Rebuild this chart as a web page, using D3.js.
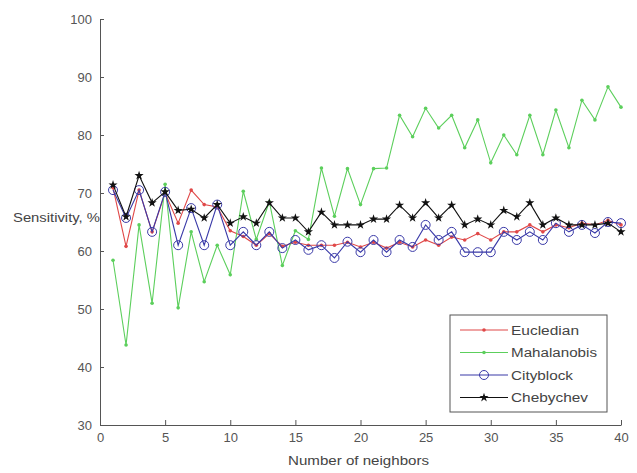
<!DOCTYPE html>
<html>
<head>
<meta charset="utf-8">
<script src="https://cdn.jsdelivr.net/npm/d3@7"></script>
<style>
  html, body { margin: 0; padding: 0; background: #fff; }
  svg { display: block; font-family: Arial, "Liberation Sans", sans-serif; }
</style>
</head>
<body>
<svg id="chart" width="637" height="473"></svg>
<script>
// Number of neighbors k = 1..40
const neighbors = d3.range(1, 41);

// Sensitivity (%) for each distance metric
const eucledian = [70.9, 60.8, 70.5, 63.3, 70.0, 64.8, 70.5, 68.0, 67.6, 63.5,
                   62.5, 61.0, 63.0, 60.8, 61.5, 61.0, 61.0, 61.0, 61.5, 60.7,
                   61.5, 60.5, 61.5, 60.7, 61.9, 61.0, 62.4, 61.9, 63.0, 61.9,
                   63.3, 63.3, 64.5, 63.3, 64.5, 64.0, 64.8, 64.5, 65.3, 64.5];
const mahalanobis = [58.4, 43.8, 64.5, 51.0, 71.5, 50.2, 63.3, 54.7, 61.0, 55.9,
                     70.3, 62.0, 68.5, 57.5, 63.5, 62.0, 74.3, 66.0, 74.2, 68.0,
                     74.2, 74.3, 83.4, 79.7, 84.6, 81.2, 83.4, 77.8, 82.6, 75.2,
                     80.0, 76.6, 83.4, 76.6, 84.3, 77.8, 86.0, 82.6, 88.3, 84.8];
const cityblock = [70.5, 65.7, 70.5, 63.3, 70.2, 61.0, 67.4, 61.0, 68.0, 61.0,
                   63.3, 61.0, 63.3, 60.5, 61.9, 60.2, 61.0, 58.8, 61.6, 59.8,
                   61.9, 59.8, 61.9, 60.7, 64.5, 61.9, 63.3, 59.8, 59.8, 59.8,
                   63.3, 61.9, 63.3, 61.9, 64.8, 63.3, 64.5, 63.1, 65.0, 64.8];
const chebychev = [71.4, 65.9, 73.0, 68.3, 70.2, 67.0, 67.2, 65.7, 68.0, 64.8,
                   65.9, 64.8, 68.3, 65.7, 65.7, 63.3, 66.7, 64.5, 64.5, 64.5,
                   65.5, 65.5, 67.9, 65.7, 68.3, 65.7, 67.9, 64.5, 65.5, 64.5,
                   67.0, 65.9, 68.3, 64.5, 65.7, 64.5, 64.5, 64.5, 64.8, 63.3];

const seriesNames = ["Eucledian", "Mahalanobis", "Cityblock", "Chebychev"];
const xTicks = [0, 5, 10, 15, 20, 25, 30, 35, 40];
const yTicks = [30, 40, 50, 60, 70, 80, 90, 100];

const series = [
  { name: seriesNames[0], values: eucledian,   color: "#e04848", marker: "dot" },
  { name: seriesNames[1], values: mahalanobis, color: "#5ccf5c", marker: "dot" },
  { name: seriesNames[2], values: cityblock,   color: "#3a3aa8", marker: "circle" },
  { name: seriesNames[3], values: chebychev,   color: "#111111", marker: "star" }
];

const svg = d3.select("#chart");
const plotLeft = 100, plotRight = 621, plotTop = 19, plotBottom = 425;

const x = d3.scaleLinear().domain([0, 40]).range([plotLeft, plotRight]);
const y = d3.scaleLinear().domain([30, 100]).range([plotBottom, plotTop]);

// Y label sits left of the axis, drawn first so the plot overlaps it
svg.append("text")
  .attr("x", 13).attr("y", 222)
  .attr("font-size", 12).attr("fill", "#444")
  .attr("textLength", 87).attr("lengthAdjust", "spacingAndGlyphs")
  .text("Sensitivity, %");

// Axes with inward ticks
const gx = svg.append("g")
  .attr("transform", `translate(0,${plotBottom})`)
  .call(d3.axisBottom(x).tickValues(xTicks).tickSizeInner(-5).tickSizeOuter(0).tickPadding(8));
const gy = svg.append("g")
  .attr("transform", `translate(${plotLeft},0)`)
  .call(d3.axisLeft(y).tickValues(yTicks).tickSizeInner(-4).tickSizeOuter(0).tickPadding(8));

[gx, gy].forEach(g => {
  g.select(".domain").attr("stroke", "#555");
  g.selectAll(".tick line").attr("stroke", "#555");
  g.selectAll(".tick text").attr("font-size", 13).attr("fill", "#555")
    .attr("font-family", "Arial, 'Liberation Sans', sans-serif");
});

svg.append("text")
  .attr("x", 288).attr("y", 465)
  .attr("font-size", 12).attr("fill", "#444")
  .attr("textLength", 141).attr("lengthAdjust", "spacingAndGlyphs")
  .text("Number of neighbors");

const line = d3.line()
  .x((d, i) => x(neighbors[i]))
  .y(d => y(d));

const star = d3.symbol().type(d3.symbolStar).size(26);

function drawMarker(g, s, cx, cy) {
  if (s.marker === "dot") {
    g.append("circle").attr("cx", cx).attr("cy", cy).attr("r", 1.8).attr("fill", s.color);
  } else if (s.marker === "circle") {
    g.append("circle").attr("cx", cx).attr("cy", cy).attr("r", 4.5)
      .attr("fill", "none").attr("stroke", s.color).attr("stroke-width", 1);
  } else {
    g.append("path").attr("d", star()).attr("transform", `translate(${cx},${cy})`)
      .attr("fill", s.color);
  }
}

series.forEach(s => {
  const g = svg.append("g");
  g.append("path")
    .datum(s.values)
    .attr("d", line)
    .attr("fill", "none")
    .attr("stroke", s.color)
    .attr("stroke-width", 1.1);
  s.values.forEach((v, i) => drawMarker(g, s, x(neighbors[i]), y(v)));
});

// Legend
const lg = svg.append("g");
lg.append("rect")
  .attr("x", 450).attr("y", 315).attr("width", 157).attr("height", 97)
  .attr("fill", "#fff").attr("stroke", "#555").attr("stroke-width", 1);
const textWidths = [68, 86, 62, 77];
series.forEach((s, i) => {
  const ry = 330 + i * 22.5;
  lg.append("line").attr("x1", 460).attr("x2", 508).attr("y1", ry).attr("y2", ry)
    .attr("stroke", s.color).attr("stroke-width", 1.1);
  drawMarker(lg, s, 484, ry);
  lg.append("text").attr("x", 511).attr("y", ry + 4.5)
    .attr("font-size", 12.5).attr("fill", "#444")
    .attr("textLength", textWidths[i]).attr("lengthAdjust", "spacingAndGlyphs")
    .text(s.name);
});
</script>
</body>
</html>
